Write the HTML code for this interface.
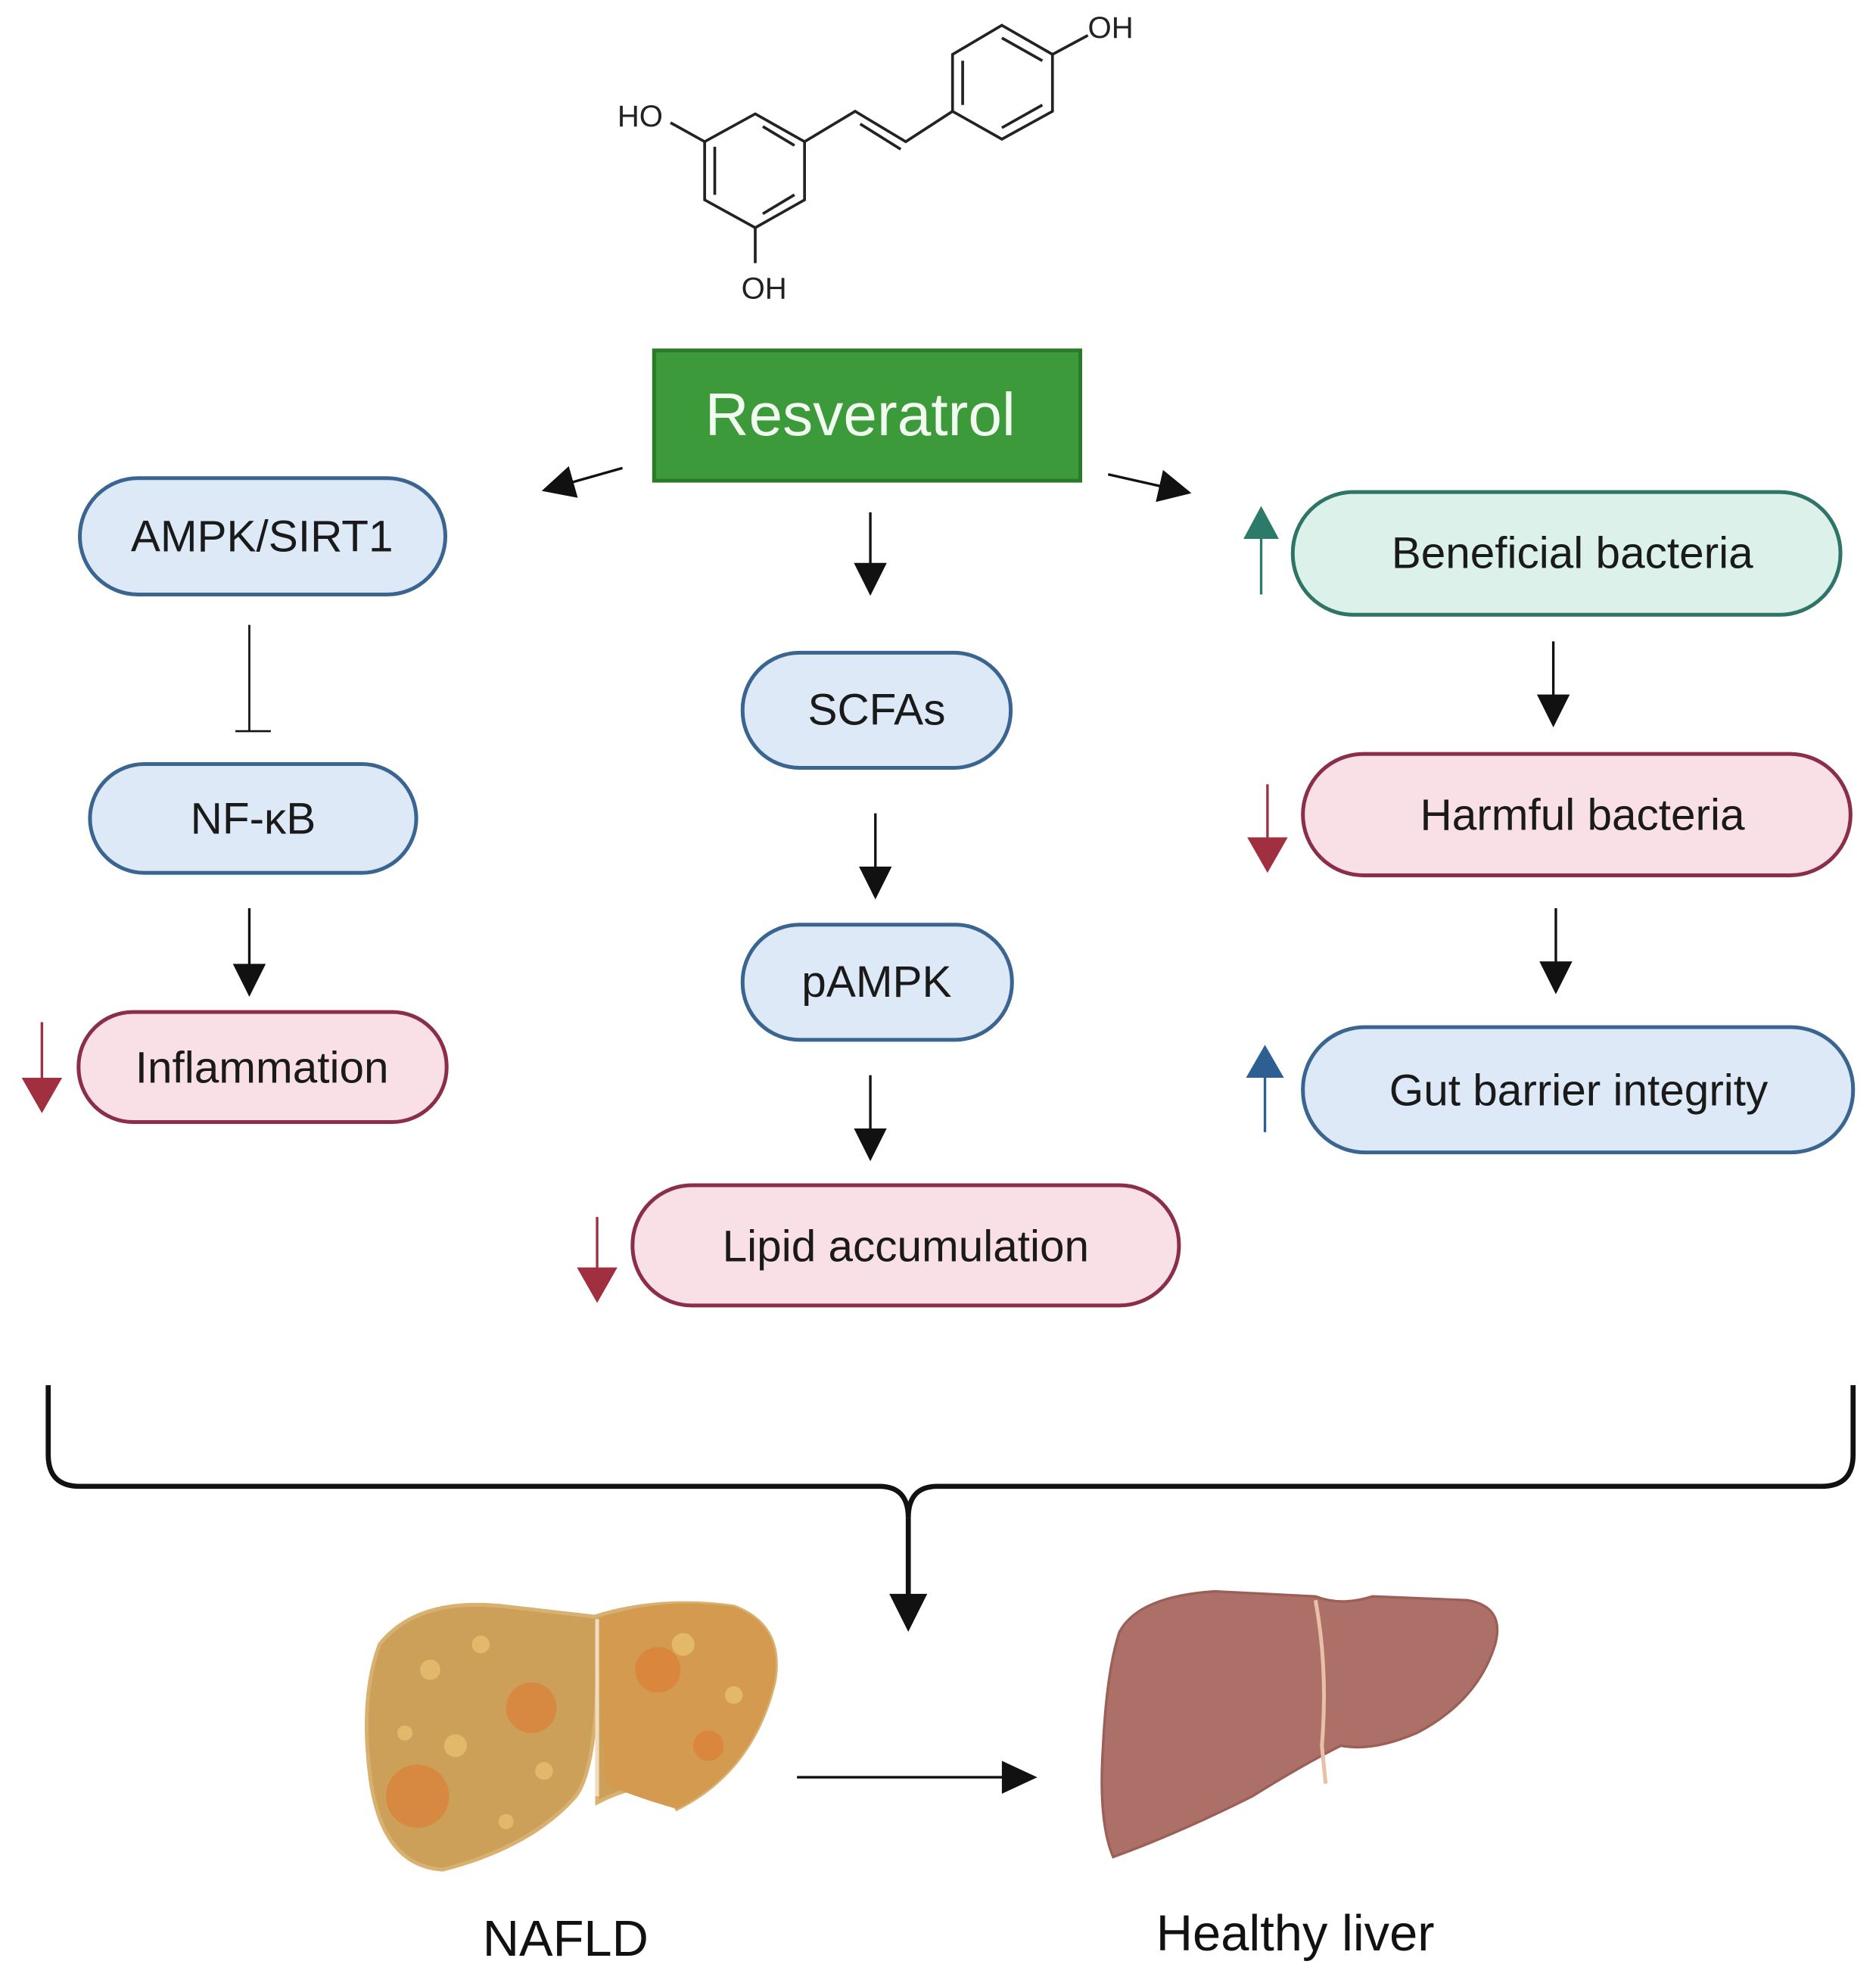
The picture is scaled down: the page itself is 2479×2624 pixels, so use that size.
<!DOCTYPE html>
<html><head><meta charset="utf-8"><style>
html,body{margin:0;padding:0;background:#fff}
svg{display:block}
text{font-family:"Liberation Sans",sans-serif}
</style></head><body>
<svg width="2479" height="2624" viewBox="0 0 1483 1570" xmlns="http://www.w3.org/2000/svg">
<defs>
<marker id="ah" markerWidth="26" markerHeight="28" refX="22" refY="14" orient="auto" markerUnits="userSpaceOnUse" viewBox="0 0 26 28"><path d="M0,1 L26,14 L0,27 z" fill="#111"/></marker>
</defs>
<!-- molecule -->
<g stroke="#222" stroke-width="2.2" fill="none">
<polygon points="597,90 636,112 636,158 597,180 557,158 557,112"/>
<line x1="603" y1="100" x2="628" y2="115"/><line x1="628" y1="154" x2="603" y2="169"/><line x1="565" y1="116" x2="565" y2="154"/>
<polygon points="792,20 832,43 832,88 792,110 753,88 753,43"/>
<line x1="792" y1="30" x2="824" y2="48"/><line x1="824" y1="83" x2="792" y2="101"/><line x1="761" y1="48" x2="761" y2="83"/>
<polyline points="636,112 676,88 716,112 753,88"/>
<line x1="680" y1="98" x2="712" y2="118" />
<line x1="557" y1="112" x2="530" y2="97"/>
<line x1="597" y1="180" x2="597" y2="208"/>
<line x1="832" y1="43" x2="860" y2="28"/>
</g>
<text x="488" y="100" font-size="24" fill="#222">HO</text>
<text x="586" y="236" font-size="24" fill="#222">OH</text>
<text x="860" y="30" font-size="24" fill="#222">OH</text>
<!-- Resveratrol -->
<rect x="517" y="277" width="337" height="103" fill="#3d9a3a" stroke="#2a7a2a" stroke-width="3"/>
<text x="680" y="344" font-size="48" fill="#f2fbef" text-anchor="middle">Resveratrol</text>
<!-- pills -->
<g stroke-width="3">
<rect x="63" y="378" width="289" height="92" rx="46" fill="#dde9f7" stroke="#3a6590"/>
<rect x="71" y="604" width="258" height="86" rx="43" fill="#dde9f7" stroke="#3a6590"/>
<rect x="62" y="800" width="291" height="87" rx="43" fill="#f9dfe6" stroke="#8a2e4a"/>
<rect x="587" y="516" width="212" height="91" rx="45" fill="#dde9f7" stroke="#3a6590"/>
<rect x="587" y="731" width="213" height="91" rx="45" fill="#dde9f7" stroke="#3a6590"/>
<rect x="500" y="937" width="432" height="95" rx="47" fill="#f9dfe6" stroke="#8a2e4a"/>
<rect x="1022" y="389" width="433" height="97" rx="48" fill="#dcf1ea" stroke="#2f7567"/>
<rect x="1030" y="596" width="433" height="96" rx="48" fill="#f9dfe6" stroke="#8a2e4a"/>
<rect x="1030" y="812" width="435" height="99" rx="49" fill="#dde9f7" stroke="#3a6590"/>
</g>
<g font-size="35" fill="#1a1a1a" text-anchor="middle">
<text x="207" y="436">AMPK/SIRT1</text>
<text x="200" y="659">NF-κB</text>
<text x="207" y="856">Inflammation</text>
<text x="693" y="573">SCFAs</text>
<text x="693" y="788">pAMPK</text>
<text x="716" y="997">Lipid accumulation</text>
<text x="1243" y="449">Beneficial bacteria</text>
<text x="1251" y="656">Harmful bacteria</text>
<text x="1248" y="874">Gut barrier integrity</text>
</g>
<!-- black arrows -->
<g stroke="#111" stroke-width="2" marker-end="url(#ah)">
<line x1="492" y1="370" x2="432" y2="387"/>
<line x1="876" y1="375" x2="938" y2="389"/>
<line x1="688" y1="405" x2="688" y2="467"/>
<line x1="197" y1="718" x2="197" y2="784"/>
<line x1="692" y1="643" x2="692" y2="707"/>
<line x1="688" y1="850" x2="688" y2="914"/>
<line x1="1228" y1="507" x2="1228" y2="571"/>
<line x1="1230" y1="718" x2="1230" y2="782"/>
</g>
<g stroke="#111" stroke-width="1.6" fill="none">
<line x1="197" y1="494" x2="197" y2="578"/><line x1="186" y1="578" x2="214" y2="578"/>
</g>
<!-- colored arrows -->
<g stroke-width="2">
<line x1="997" y1="420" x2="997" y2="470" stroke="#2c7a6a"/><path d="M983,426 L997,400 L1011,426z" fill="#2c7a6a"/>
<line x1="33" y1="808" x2="33" y2="860" stroke="#a03040"/><path d="M17,852 L33,880 L49,852z" fill="#a03040"/>
<line x1="472" y1="962" x2="472" y2="1010" stroke="#a03040"/><path d="M456,1002 L472,1030 L488,1002z" fill="#a03040"/>
<line x1="1002" y1="620" x2="1002" y2="670" stroke="#a03040"/><path d="M986,662 L1002,690 L1018,662z" fill="#a03040"/>
<line x1="1000" y1="846" x2="1000" y2="895" stroke="#2d5f93"/><path d="M985,852 L1000,826 L1015,852z" fill="#2d5f93"/>
</g>
<!-- brace -->
<path d="M38,1095 L38,1150 Q38,1175 63,1175 L695,1175 Q718,1175 718,1200 Q718,1175 741,1175 L1440,1175 Q1465,1175 1465,1150 L1465,1095" fill="none" stroke="#111" stroke-width="4"/>
<line x1="718" y1="1200" x2="718" y2="1265" stroke="#111" stroke-width="4"/>
<path d="M703,1260 L718,1290 L733,1260z" fill="#111"/>
<!-- NAFLD liver -->
<path d="M300,1300 Q330,1262 400,1270 L470,1278 Q520,1262 580,1270 Q620,1285 612,1330 Q595,1400 535,1430 Q520,1400 472,1425 L472,1330 Q470,1400 455,1420 Q420,1460 350,1478 Q300,1475 292,1400 Q285,1340 300,1300z" fill="#cda05a" stroke="#d8b070" stroke-width="3"/>
<path d="M472,1280 Q520,1262 580,1270 Q620,1285 612,1330 Q595,1400 535,1430 Q500,1420 478,1410z" fill="#d49a50"/>
<g fill="#e07a30" opacity="0.6"><circle cx="330" cy="1420" r="25"/><circle cx="420" cy="1350" r="20"/><circle cx="520" cy="1320" r="18"/><circle cx="560" cy="1380" r="12"/></g>
<g fill="#e8c070" opacity="0.8"><circle cx="340" cy="1320" r="8"/><circle cx="380" cy="1300" r="7"/><circle cx="360" cy="1380" r="9"/><circle cx="430" cy="1400" r="7"/><circle cx="540" cy="1300" r="9"/><circle cx="580" cy="1340" r="7"/><circle cx="400" cy="1440" r="6"/><circle cx="320" cy="1370" r="6"/></g>
<path d="M472,1280 L472,1420" stroke="#f0dcc0" stroke-width="3"/>
<!-- arrow NAFLD -> healthy -->
<line x1="630" y1="1405" x2="795" y2="1405" stroke="#111" stroke-width="2"/>
<path d="M792,1392 L820,1405 L792,1418z" fill="#111"/>
<!-- healthy liver -->
<path d="M885,1290 Q900,1262 960,1258 L1040,1262 Q1060,1270 1085,1262 L1160,1265 Q1190,1270 1182,1300 Q1168,1345 1120,1370 Q1085,1385 1060,1380 Q1030,1395 990,1420 Q930,1450 880,1468 Q868,1440 872,1380 Q875,1320 885,1290z" fill="#ad7068" stroke="#9b5f58" stroke-width="2"/>
<path d="M1040,1265 Q1050,1320 1045,1380 L1048,1410" fill="none" stroke="#e8c0a8" stroke-width="3"/>
<!-- labels -->
<text x="447" y="1546" font-size="40" fill="#111" text-anchor="middle">NAFLD</text>
<text x="1024" y="1542" font-size="40" fill="#111" text-anchor="middle">Healthy liver</text>
</svg>
</body></html>
